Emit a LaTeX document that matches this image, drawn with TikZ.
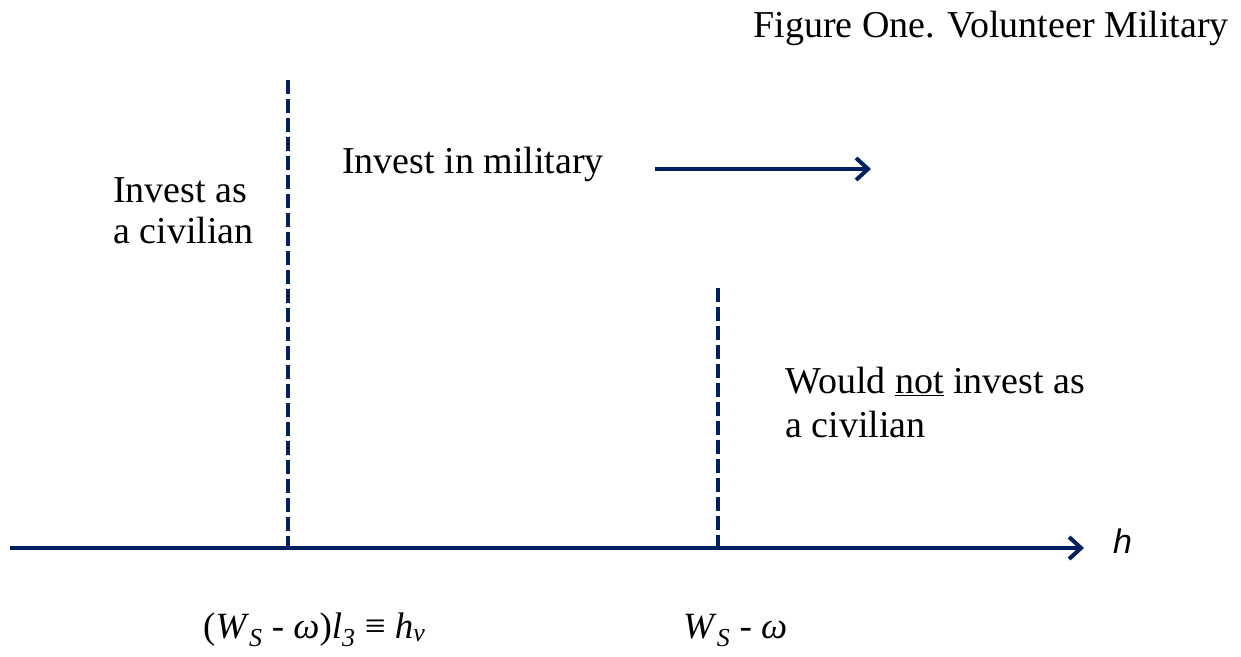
\documentclass[tikz,border=0pt]{standalone}
\usepackage{fontspec}
\setmainfont{Liberation Serif}
\newfontfamily\arialfont{Liberation Sans}
\usetikzlibrary{arrows.meta}
\definecolor{navy}{RGB}{0,32,96}
\tikzset{
  txt/.style={font=\fontsize{38}{41}\selectfont, inner sep=0pt, align=left},
  lbl/.style={font=\fontsize{37}{40}\selectfont, inner sep=0pt},
  dline/.style={draw=navy, line width=4pt, dash pattern=on 14pt off 5pt},
  axis/.style={draw=navy, line width=4pt, -{Straight Barb[length=12pt,width=22pt,line width=4pt]}},
}
\begin{document}
\begin{tikzpicture}[x=1pt,y=-1pt]
\useasboundingbox (0,0) rectangle (1241,656);
% axis
\coordinate (axL) at (10,548);
\coordinate (axR) at (1084,548);
\draw[axis] (axL) -- (axR);
% dashed lines
\coordinate (d1t) at (288,80);
\coordinate (d1b) at (288,548);
\coordinate (d2t) at (718,288);
\coordinate (d2b) at (718,548);
\draw[dline] (d1t) -- (d1b);
\draw[dline] (d2t) -- (d2b);
% small arrow
\coordinate (a1) at (655,169);
\coordinate (a2) at (871,169);
\draw[axis] (a1) -- (a2);
% texts
\node[txt, anchor=base east] (title) at (1229,37) {Figure One. Volunteer Military};
\node[txt, anchor=base west] (mil) at (342,173) {Invest in military};
\node[txt, anchor=base west] (civ) at (113,243) {Invest as\\a civilian};
\node[txt, anchor=base west] (not) at (785,437) {Would \underline{not} invest as\\[3pt]a civilian};
\node[inner sep=0pt, anchor=base west, font=\arialfont\itshape\fontsize{34}{38}\selectfont] (h) at (1113,553) {h};
\node[lbl, anchor=base west] (hv) at (203,638) {(\textit{W}\textsubscript{\textit{S}} - \textit{ω})\textit{l}\textsubscript{\textit{3}} ≡ \textit{h}\textsubscript{\textit{v}}};
\node[lbl, anchor=base west] (ws) at (683,638) {\textit{W}\textsubscript{\textit{S}} - \textit{ω}};
\end{tikzpicture}
\end{document}
